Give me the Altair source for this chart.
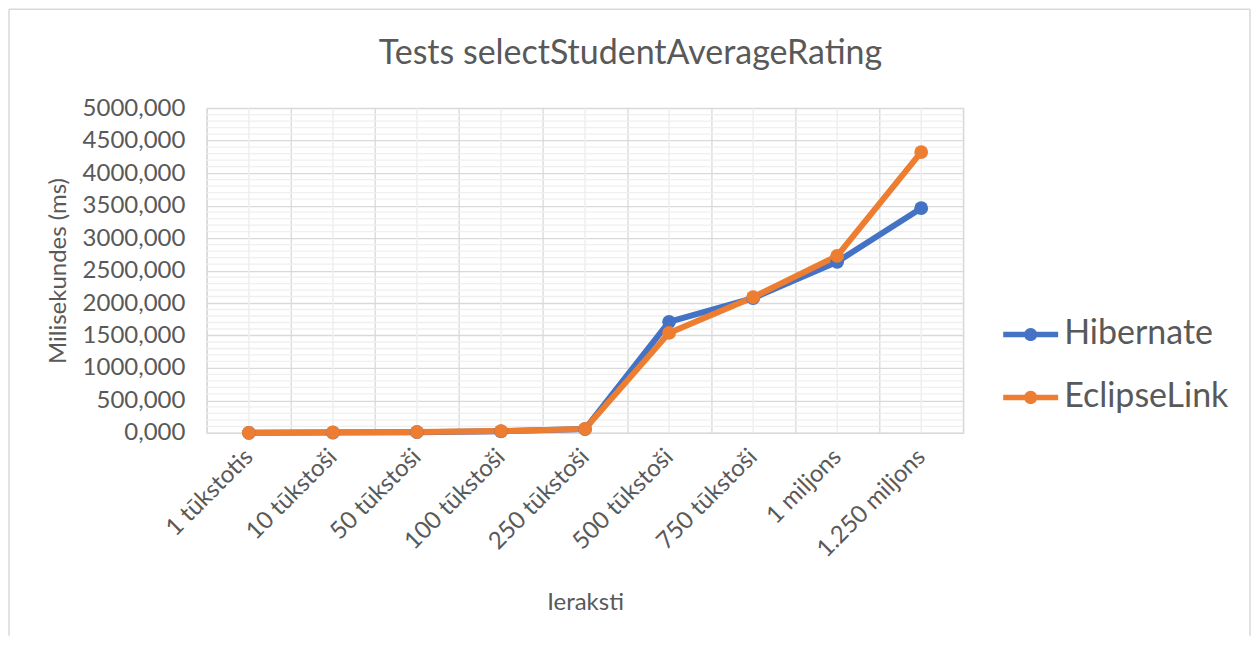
import altair as alt
import pandas as pd

# ---- data ----
categories = ["1 tūkstotis", "10 tūkstoši", "50 tūkstoši", "100 tūkstoši", "250 tūkstoši",
              "500 tūkstoši", "750 tūkstoši", "1 miljons", "1.250 miljons"]
hibernate = [2, 6, 12, 25, 60, 1710, 2075, 2635, 3460]
eclipselink = [2, 9, 14, 28, 62, 1540, 2090, 2725, 4325]
series_names = ["Hibernate", "EclipseLink"]
series_colors = ["#4472C4", "#ED7D31"]
y_major_ticks = list(range(0, 5001, 500))
y_minor_ticks = [v for v in range(100, 5000, 100) if v % 500 != 0]
title_text = "Tests selectStudentAverageRating"

TEXT = "#595959"
GRID = "#D9D9D9"
MINOR = "#EFEFEF"
FONT = "Lato"

rows = []
for name, vals in zip(series_names, [hibernate, eclipselink]):
    for c, v in zip(categories, vals):
        rows.append({"Ieraksti": c, "ms": v, "series": name})
df = pd.DataFrame(rows)

x_scale = alt.Scale(type="band", paddingInner=0, paddingOuter=0)
y_scale = alt.Scale(domain=[0, 5000], nice=False)

x_axis = alt.Axis(title="Ieraksti", tickBand="extent", grid=True, gridColor=GRID,
                  gridWidth=1.3, ticks=False, domain=False, labelAngle=-45,
                  labelAlign="right", labelBaseline="middle", labelPadding=20,
                  labelOverlap=False, labelFontSize=24, labelColor=TEXT,
                  titleFontSize=24, titleColor=TEXT, titleFontWeight="normal",
                  titleY=170, titleBaseline="middle")
y_axis = alt.Axis(title="Milisekundes (ms)", values=y_major_ticks, grid=True,
                  gridColor=GRID, gridWidth=1.3, ticks=False, domain=False,
                  labelExpr="replace(format(datum.value, '.3f'), '.', ',')",
                  labelOverlap=False,
                  labelFontSize=24, labelColor=TEXT, labelPadding=22,
                  titleFontSize=24, titleColor=TEXT, titleFontWeight="normal",
                  titleX=-148, titleBaseline="middle")

def xe(field="Ieraksti"):
    return alt.X(f"{field}:N", sort=categories, scale=x_scale, axis=x_axis, title="Ieraksti")

def ye(field="ms"):
    return alt.Y(f"{field}:Q", scale=y_scale, axis=y_axis, title="Milisekundes (ms)")

color_scale = alt.Scale(domain=series_names, range=series_colors)

legend_symbol = ("M-1,-0.1 L1,-0.1 L1,0.1 L-1,0.1 Z "
                 "M-0.24,0 A0.24,0.24 0 1,1 0.24,0 A0.24,0.24 0 1,1 -0.24,0 Z")
legend = alt.Legend(title=None, orient="none", legendX=797, legendY=199,
                    symbolType=legend_symbol, symbolSize=3025,
                    symbolStrokeWidth=0, symbolOpacity=1,
                    labelFontSize=34, labelColor=TEXT, labelOffset=6, labelLimit=0,
                    rowPadding=18, padding=0)
color_enc = alt.Color("series:N", scale=color_scale, sort=series_names, legend=legend)

minor_h = alt.Chart(pd.DataFrame({"v": y_minor_ticks})).mark_rule(
    color=MINOR, strokeWidth=1.3).encode(y=ye("v"))
minor_v = alt.Chart(pd.DataFrame({"Ieraksti": categories})).mark_rule(
    color=MINOR, strokeWidth=1.5).encode(x=xe())

lines = alt.Chart(df).mark_line(strokeWidth=6).encode(x=xe(), y=ye(), color=color_enc)
points = alt.Chart(df).mark_circle(size=190, opacity=1).encode(x=xe(), y=ye(), color=color_enc)

title_layer = alt.Chart(pd.DataFrame({"t": [title_text]})).mark_text(
    fontSize=34, color=TEXT, align="center", baseline="middle", font=FONT
).encode(text="t:N", x=alt.value(424), y=alt.value(-54))

frame_df = pd.DataFrame({"k": [0]})
frame_top = alt.Chart(frame_df).mark_rule(color=GRID, strokeWidth=1.5).encode(
    x=alt.value(-198), x2=alt.value(1044), y=alt.value(-99))
frame_left = alt.Chart(frame_df).mark_rule(color=GRID, strokeWidth=1.5).encode(
    x=alt.value(-198), y=alt.value(-99), y2=alt.value(528))
frame_right = alt.Chart(frame_df).mark_rule(color=GRID, strokeWidth=1.5).encode(
    x=alt.value(1044), y=alt.value(-99), y2=alt.value(528))

chart = alt.layer(
    frame_top, frame_left, frame_right, minor_h, minor_v, lines, points, title_layer
).properties(
    width=757, height=325, padding=0, background="white"
).configure(font=FONT).configure_view(stroke=GRID, strokeWidth=1.3)

chart.save("out.html", embed_options={"renderer": "svg", "actions": False})
